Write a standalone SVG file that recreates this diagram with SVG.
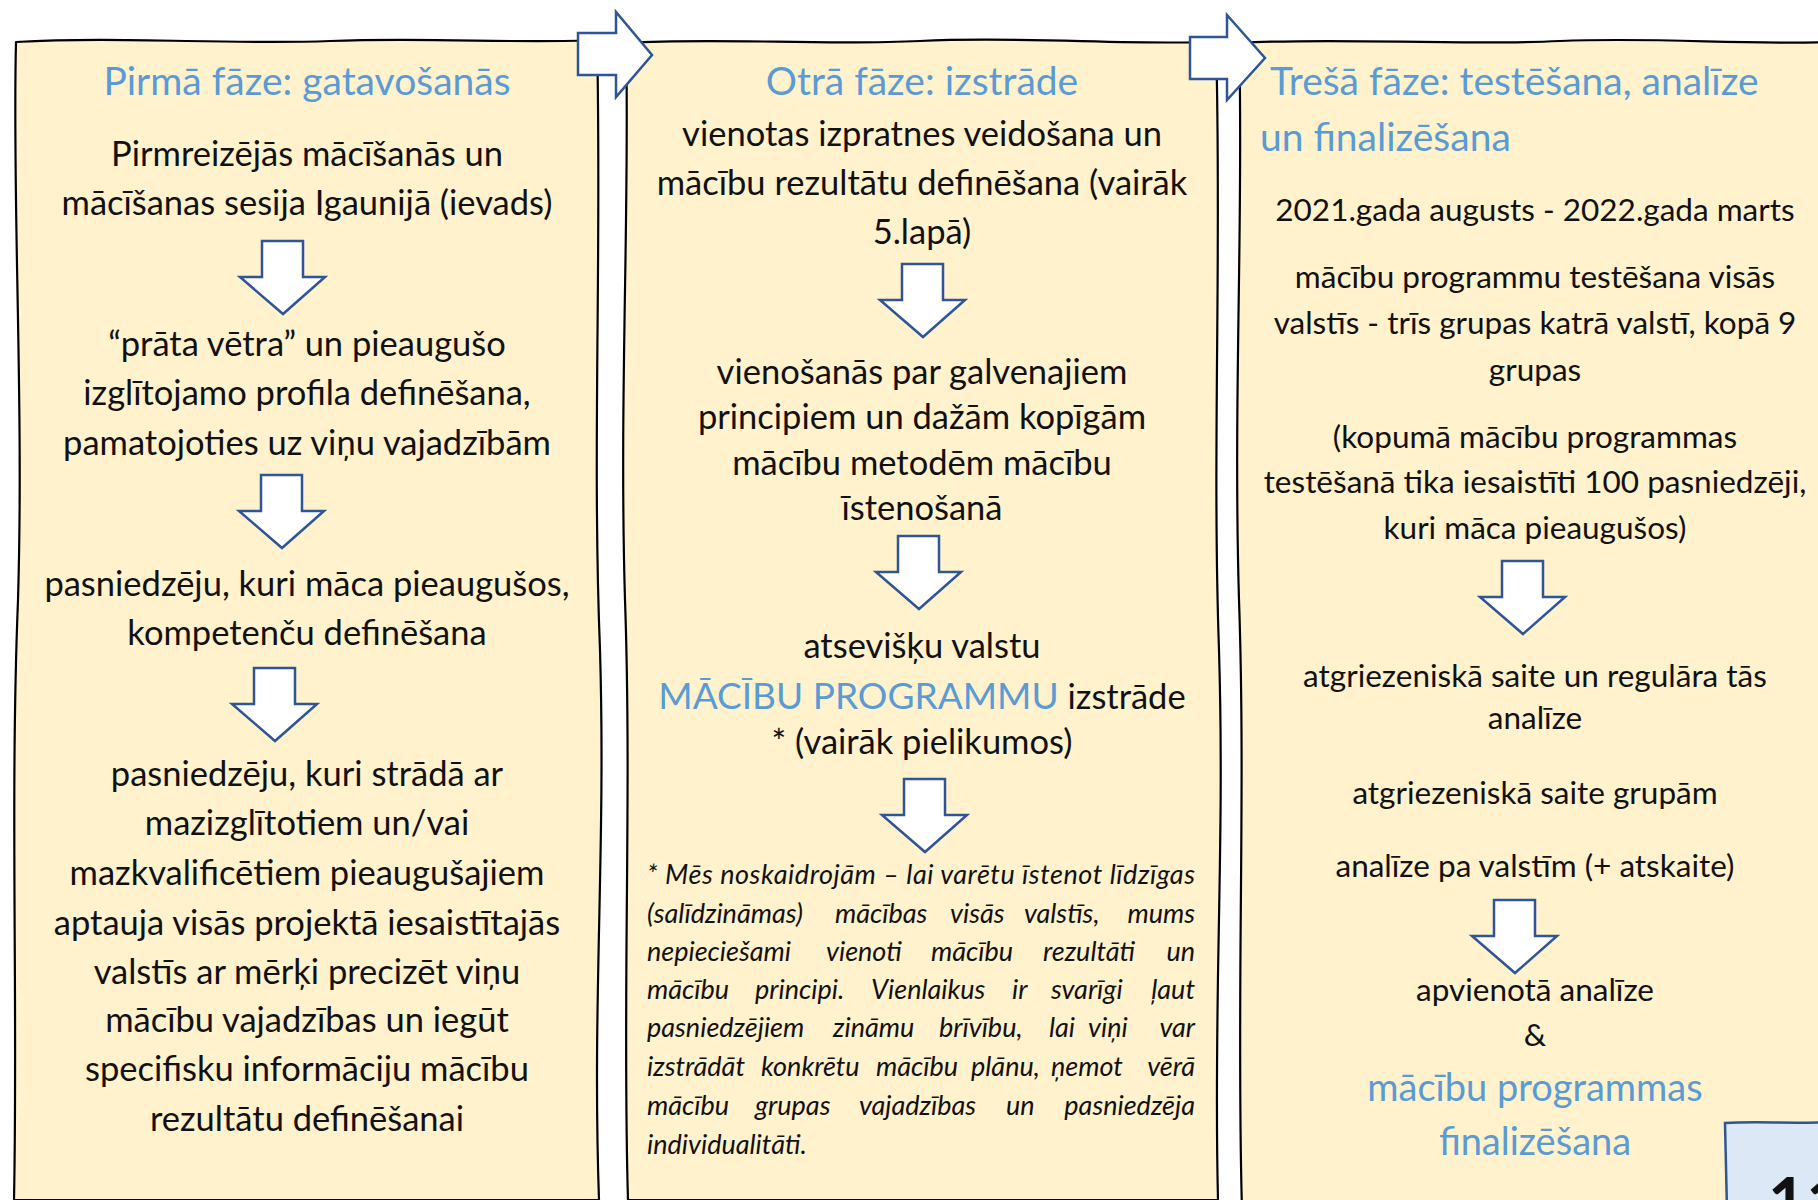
<svg xmlns="http://www.w3.org/2000/svg" width="1818" height="1200" viewBox="0 0 1818 1200">
<style>
.panel{fill:#fff2cc;stroke:#000;stroke-width:2.2;stroke-linejoin:round}
.ra{fill:#fff;stroke:#2f5597;stroke-width:2.5;stroke-linejoin:miter}
.da{fill:#fff;stroke:#2f5597;stroke-width:2.5}
text{font-family:Lato,"Open Sans","DejaVu Sans",sans-serif;fill:#111}
.h{fill:#5b9bd5;font-size:39px}
.b1{font-size:34.5px;text-anchor:middle}
.b3{font-size:31.5px;text-anchor:middle}
.bl{fill:#5b9bd5}
.big{font-size:38px}
.mp{font-size:37px}
.i{font-size:27px;font-style:italic}
.e{text-anchor:end}
</style>
<defs>
<path id="down" class="da" d="M-21,0 L20,0 L20,36 L42,36 L0,73 L-43,36 L-21,36 Z"/>
</defs>
<rect width="1818" height="1200" fill="#fff"/>

<g id="panel1">
<path class="panel" d="M16,42 C120,36 230,45 330,41 C430,37 520,44 597,40 C602,250 592,450 600,650 C606,850 592,1000 599,1200 L14,1200 C18,1000 10,800 18,600 C24,400 12,200 16,42 Z"/>
<text class="h" x="307" y="95" text-anchor="middle">Pirmā fāze: gatavošanās</text>
<text class="b1" x="307" y="166">Pirmreizējās mācīšanās un</text>
<text class="b1" x="307" y="215">mācīšanas sesija Igaunijā (ievads)</text>
<use href="#down" x="283" y="241"/>
<text class="b1" x="307" y="356">“prāta vētra” un pieaugušo</text>
<text class="b1" x="307" y="405">izglītojamo profila definēšana,</text>
<text class="b1" x="307" y="455">pamatojoties uz viņu vajadzībām</text>
<use href="#down" x="282" y="475"/>
<text class="b1" x="307" y="596">pasniedzēju, kuri māca pieaugušos,</text>
<text class="b1" x="307" y="645">kompetenču definēšana</text>
<use href="#down" x="275" y="668"/>
<text class="b1" x="307" y="786">pasniedzēju, kuri strādā ar</text>
<text class="b1" x="307" y="835">mazizglītotiem un/vai</text>
<text class="b1" x="307" y="885">mazkvalificētiem pieaugušajiem</text>
<text class="b1" x="307" y="935">aptauja visās projektā iesaistītajās</text>
<text class="b1" x="307" y="984">valstīs ar mērķi precizēt viņu</text>
<text class="b1" x="307" y="1032">mācību vajadzības un iegūt</text>
<text class="b1" x="307" y="1081">specifisku informāciju mācību</text>
<text class="b1" x="307" y="1131">rezultātu definēšanai</text>
</g>

<g id="panel2">
<path class="panel" d="M626,43 C720,37 820,46 920,41 C1020,36 1120,45 1216,42 C1222,250 1212,450 1219,650 C1225,850 1213,1000 1218,1200 L628,1200 C622,1000 632,800 625,600 C619,400 630,200 626,43 Z"/>
<text class="h" x="922" y="95" text-anchor="middle">Otrā fāze: izstrāde</text>
<text class="b1" x="922" y="146">vienotas izpratnes veidošana un</text>
<text class="b1" x="922" y="195">mācību rezultātu definēšana (vairāk</text>
<text class="b1" x="922" y="244">5.lapā)</text>
<use href="#down" x="923" y="264"/>
<text class="b1" x="922" y="384">vienošanās par galvenajiem</text>
<text class="b1" x="922" y="429">principiem un dažām kopīgām</text>
<text class="b1" x="922" y="475">mācību metodēm mācību</text>
<text class="b1" x="922" y="520">īstenošanā</text>
<use href="#down" x="919" y="536"/>
<text class="b1" x="922" y="658">atsevišķu valstu</text>
<text class="b1" x="922" y="709"><tspan class="bl mp">MĀCĪBU PROGRAMMU</tspan> izstrāde</text>
<text class="b1" x="922" y="754">* (vairāk pielikumos)</text>
<use href="#down" x="925" y="779"/>
<text class="i" x="647" y="884" textLength="548" lengthAdjust="spacing">* Mēs noskaidrojām – lai varētu īstenot līdzīgas</text>
<text class="i" x="647" y="923">(salīdzināmas)</text><text class="i" x="835" y="923">mācības</text><text class="i" x="950" y="923">visās</text><text class="i" x="1024" y="923">valstīs,</text><text class="i e" x="1195" y="923">mums</text>
<text class="i" x="647" y="961">nepieciešami</text><text class="i" x="826" y="961">vienoti</text><text class="i" x="931" y="961">mācību</text><text class="i" x="1043" y="961">rezultāti</text><text class="i e" x="1195" y="961">un</text>
<text class="i" x="647" y="999">mācību</text><text class="i" x="755" y="999">principi.</text><text class="i" x="871" y="999">Vienlaikus</text><text class="i" x="1012" y="999">ir</text><text class="i" x="1051" y="999">svarīgi</text><text class="i e" x="1195" y="999">ļaut</text>
<text class="i" x="647" y="1037">pasniedzējiem</text><text class="i" x="833" y="1037">zināmu</text><text class="i" x="939" y="1037">brīvību,</text><text class="i" x="1049" y="1037">lai</text><text class="i" x="1088" y="1037">viņi</text><text class="i e" x="1195" y="1037">var</text>
<text class="i" x="647" y="1076">izstrādāt</text><text class="i" x="761" y="1076">konkrētu</text><text class="i" x="876" y="1076">mācību</text><text class="i" x="971" y="1076">plānu,</text><text class="i" x="1051" y="1076">ņemot</text><text class="i e" x="1195" y="1076">vērā</text>
<text class="i" x="647" y="1115">mācību</text><text class="i" x="755" y="1115">grupas</text><text class="i" x="859" y="1115">vajadzības</text><text class="i" x="1006" y="1115">un</text><text class="i e" x="1195" y="1115">pasniedzēja</text>
<text class="i" x="647" y="1154">individualitāti.</text>
</g>

<g id="panel3">
<path class="panel" d="M1239,43 C1340,37 1450,46 1560,41 C1660,37 1740,45 1830,42 L1830,1210 L1242,1210 C1236,1000 1246,800 1239,600 C1233,400 1244,200 1239,43 Z"/>
<text class="h" x="1270" y="95">Trešā fāze: testēšana, analīze</text>
<text class="h" x="1260" y="151">un finalizēšana</text>
<text class="b3" x="1535" y="221">2021.gada augusts - 2022.gada marts</text>
<text class="b3" x="1535" y="288">mācību programmu testēšana visās</text>
<text class="b3" x="1535" y="334">valstīs - trīs grupas katrā valstī, kopā 9</text>
<text class="b3" x="1535" y="381">grupas</text>
<text class="b3" x="1535" y="448">(kopumā mācību programmas</text>
<text class="b3" x="1535" y="493">testēšanā tika iesaistīti 100 pasniedzēji,</text>
<text class="b3" x="1535" y="539">kuri māca pieaugušos)</text>
<use href="#down" x="1523" y="561"/>
<text class="b3" x="1535" y="687">atgriezeniskā saite un regulāra tās</text>
<text class="b3" x="1535" y="729">analīze</text>
<text class="b3" x="1535" y="804">atgriezeniskā saite grupām</text>
<text class="b3" x="1535" y="877">analīze pa valstīm (+ atskaite)</text>
<use href="#down" x="1515" y="900"/>
<text class="b3" x="1535" y="1001">apvienotā analīze</text>
<text class="b3" x="1535" y="1046">&amp;</text>
<text class="b3 bl big" x="1535" y="1101">mācību programmas</text>
<text class="b3 bl big" x="1535" y="1155">finalizēšana</text>
</g>

<g id="connectors">
<path class="ra" d="M578,33 L616,33 L616,12 L652,55 L616,97 L616,75 L578,75 Z"/>
<path class="ra" d="M1190,37 L1227,37 L1227,15 L1265,58 L1227,100 L1227,79 L1190,79 Z"/>
</g>

<g id="pagebox">
<path d="M1725,1123 C1760,1121 1790,1124 1830,1122 L1830,1210 L1727,1210 Z" fill="#dde8f6" stroke="#2f5597" stroke-width="2.5"/>
<text x="1768" y="1226" font-size="66" font-weight="bold" fill="#000">11</text>
</g>
</svg>
